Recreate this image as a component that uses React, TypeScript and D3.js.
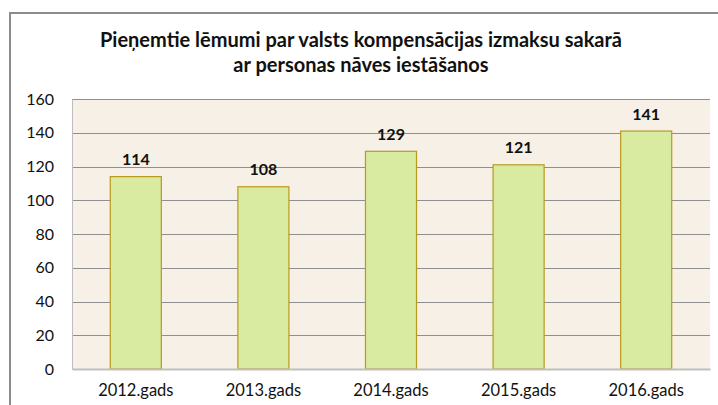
import React, { useRef, useEffect } from "react";
import { select, scaleBand, scaleLinear, axisLeft, axisBottom } from "d3";

const years = ["2012.gads", "2013.gads", "2014.gads", "2015.gads", "2016.gads"];
const decisions = [114, 108, 129, 121, 141];
const yTicks = [0, 20, 40, 60, 80, 100, 120, 140, 160];
const titleLines = [
  "Pieņemtie lēmumi par valsts kompensācijas izmaksu sakarā",
  "ar personas nāves iestāšanos",
];

const W = 718;
const H = 405;
const FONT = "Lato, 'Open Sans', sans-serif";

function App() {
  const svgRef = useRef<SVGSVGElement>(null);

  useEffect(() => {
    const svg = select(svgRef.current);
    svg.selectAll("*").remove();

    const left = 72;
    const right = 710;
    const top = 99;
    const bottom = 369;

    const x = scaleBand().domain(years).range([left, right]).paddingInner(0.6).paddingOuter(0.3);
    const y = scaleLinear().domain([0, 160]).range([bottom, top]);

    // outer chart border (only top/left visible)
    svg
      .append("path")
      .attr("d", `M10,${H + 2} L10,13 L${W + 2},13`)
      .attr("fill", "none")
      .attr("stroke", "#8c8c8c")
      .attr("stroke-width", 2);

    // title
    svg
      .append("g")
      .selectAll("text")
      .data(titleLines)
      .join("text")
      .attr("x", 361)
      .attr("y", (d, i) => 47 + i * 25)
      .attr("text-anchor", "middle")
      .attr("font-family", FONT)
      .attr("font-weight", "bold")
      .attr("font-size", 20)
      .attr("fill", "#111")
      .text((d) => d);

    // plot background
    svg
      .append("rect")
      .attr("x", left)
      .attr("y", top)
      .attr("width", right - left)
      .attr("height", bottom - top)
      .attr("fill", "#f6f0e6");

    // gridlines
    svg
      .append("g")
      .selectAll("line")
      .data(yTicks.filter((t) => t > 0))
      .join("line")
      .attr("x1", left)
      .attr("x2", right)
      .attr("y1", (d) => Math.round(y(d)) + 0.5)
      .attr("y2", (d) => Math.round(y(d)) + 0.5)
      .attr("stroke", "#8f8f8f")
      .attr("stroke-width", 1);

    // y axis
    const yAxis = axisLeft(y).tickValues(yTicks).tickSize(0).tickPadding(18);
    const gy = svg.append("g").attr("transform", `translate(${left},0)`).call(yAxis);
    gy.select(".domain").attr("stroke", "#bdbdbd").attr("stroke-width", 1);
    gy.selectAll("text")
      .attr("font-family", FONT)
      .attr("font-size", 16)
      .attr("fill", "#111");

    // bars
    svg
      .append("g")
      .selectAll("rect")
      .data(decisions)
      .join("rect")
      .attr("x", (d, i) => x(years[i])!)
      .attr("y", (d) => y(d))
      .attr("width", x.bandwidth())
      .attr("height", (d) => bottom - y(d))
      .attr("fill", "#d8eba0")
      .attr("stroke", "#b89a1e")
      .attr("stroke-width", 1.2);

    // value labels
    svg
      .append("g")
      .selectAll("text")
      .data(decisions)
      .join("text")
      .attr("x", (d, i) => x(years[i])! + x.bandwidth() / 2)
      .attr("y", (d) => y(d) - 11.5)
      .attr("text-anchor", "middle")
      .attr("font-family", FONT)
      .attr("font-weight", "bold")
      .attr("font-size", 16)
      .attr("fill", "#111")
      .text((d) => d);

    // x axis
    const xAxis = axisBottom(x).tickSize(0).tickPadding(15);
    const gx = svg.append("g").attr("transform", `translate(0,${bottom})`).call(xAxis);
    gx.select(".domain").attr("stroke", "#c0c0c0").attr("stroke-width", 2);
    gx.selectAll("text")
      .attr("font-family", FONT)
      .attr("font-size", 16.5)
      .attr("fill", "#111");
  }, []);

  return (
    <svg
      ref={svgRef}
      width={W}
      height={H}
      style={{ position: "absolute", left: 0, top: 0, background: "#fff" }}
    />
  );
}

export default App;
